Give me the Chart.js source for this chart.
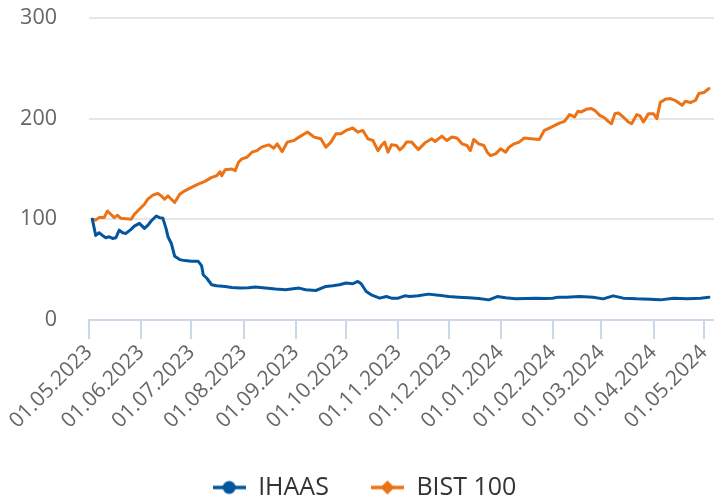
<!DOCTYPE html>
<html>
<head>
<meta charset="utf-8">
<script src="https://cdn.jsdelivr.net/npm/chart.js@4.4.1/dist/chart.umd.min.js"></script>
<style>
  html, body { margin: 0; padding: 0; background: #ffffff; }
  #chart { display: block; }
</style>
</head>
<body>
<canvas id="chart" width="714" height="502"></canvas>
<script>
// IHAAS ve BIST 100 karşılaştırma grafiği (başlangıç = 100)

const ihaasDates = [
    '2023-05-03', '2023-05-05', '2023-05-07', '2023-05-09', '2023-05-11', '2023-05-13', '2023-05-15', '2023-05-17',
    '2023-05-19', '2023-05-21', '2023-05-23', '2023-05-26', '2023-05-28', '2023-05-31', '2023-06-03', '2023-06-05',
    '2023-06-07', '2023-06-10', '2023-06-12', '2023-06-14', '2023-06-16', '2023-06-17', '2023-06-19', '2023-06-21',
    '2023-06-24', '2023-06-27', '2023-07-01', '2023-07-05', '2023-07-07', '2023-07-08', '2023-07-10', '2023-07-13',
    '2023-07-16', '2023-07-21', '2023-07-25', '2023-07-30', '2023-08-04', '2023-08-08', '2023-08-14', '2023-08-20',
    '2023-08-26', '2023-09-03', '2023-09-07', '2023-09-13', '2023-09-19', '2023-09-23', '2023-09-27', '2023-10-01',
    '2023-10-05', '2023-10-08', '2023-10-10', '2023-10-13', '2023-10-16', '2023-10-21', '2023-10-25', '2023-10-28',
    '2023-11-01', '2023-11-05', '2023-11-08', '2023-11-13', '2023-11-19', '2023-11-25', '2023-12-01', '2023-12-07',
    '2023-12-13', '2023-12-19', '2023-12-25', '2023-12-30', '2024-01-04', '2024-01-10', '2024-01-16', '2024-01-22',
    '2024-01-28', '2024-02-01', '2024-02-04', '2024-02-09', '2024-02-17', '2024-02-25', '2024-03-02', '2024-03-08',
    '2024-03-14', '2024-03-22', '2024-03-30', '2024-04-05', '2024-04-13', '2024-04-21', '2024-04-29', '2024-05-04'
];
const ihaasValues = [
    100, 84, 86.7, 84, 81.7, 82.7, 81, 81.7,
    89.3, 86.7, 86, 90, 93.3, 96, 91, 94,
    98.3, 103.3, 101.7, 101, 90, 82.7, 76, 63.3,
    60, 59, 58.3, 58.3, 54, 45, 41.7, 35,
    34, 33.3, 32.3, 31.7, 32, 32.7, 31.7, 30.7,
    30, 31.7, 30, 29.3, 33.3, 34, 35, 36.7,
    36, 38.3, 36, 28.3, 25, 21.7, 23.3, 21.7,
    21.7, 24, 23.3, 24, 25.7, 24.7, 23.3, 22.7,
    22, 21.3, 20, 23.3, 22, 21, 21.3, 21.7,
    21.3, 21.7, 22.7, 22.7, 23.3, 22.7, 21, 24,
    21.7, 21, 20.7, 20, 21.7, 21, 21.7, 22.7
];

const bistDates = [
    '2023-05-03', '2023-05-05', '2023-05-07', '2023-05-10', '2023-05-12', '2023-05-14', '2023-05-16', '2023-05-18',
    '2023-05-20', '2023-05-23', '2023-05-26', '2023-05-28', '2023-05-31', '2023-06-03', '2023-06-05', '2023-06-08',
    '2023-06-11', '2023-06-13', '2023-06-15', '2023-06-17', '2023-06-19', '2023-06-21', '2023-06-24', '2023-06-27',
    '2023-07-01', '2023-07-05', '2023-07-09', '2023-07-13', '2023-07-16', '2023-07-18', '2023-07-19', '2023-07-21',
    '2023-07-25', '2023-07-27', '2023-07-29', '2023-07-31', '2023-08-03', '2023-08-06', '2023-08-09', '2023-08-12',
    '2023-08-16', '2023-08-19', '2023-08-21', '2023-08-24', '2023-08-27', '2023-08-31', '2023-09-03', '2023-09-08',
    '2023-09-12', '2023-09-16', '2023-09-19', '2023-09-22', '2023-09-25', '2023-09-28', '2023-10-01', '2023-10-05',
    '2023-10-08', '2023-10-11', '2023-10-14', '2023-10-17', '2023-10-20', '2023-10-22', '2023-10-24', '2023-10-26',
    '2023-10-28', '2023-10-31', '2023-11-02', '2023-11-04', '2023-11-06', '2023-11-09', '2023-11-13', '2023-11-17',
    '2023-11-21', '2023-11-23', '2023-11-27', '2023-11-30', '2023-12-03', '2023-12-06', '2023-12-09', '2023-12-12',
    '2023-12-14', '2023-12-16', '2023-12-19', '2023-12-22', '2023-12-24', '2023-12-26', '2023-12-29', '2024-01-01',
    '2024-01-04', '2024-01-06', '2024-01-09', '2024-01-12', '2024-01-15', '2024-01-19', '2024-01-24', '2024-01-27',
    '2024-01-30', '2024-02-02', '2024-02-05', '2024-02-08', '2024-02-11', '2024-02-14', '2024-02-16', '2024-02-18',
    '2024-02-21', '2024-02-24', '2024-02-26', '2024-02-29', '2024-03-03', '2024-03-05', '2024-03-07', '2024-03-09',
    '2024-03-11', '2024-03-14', '2024-03-17', '2024-03-19', '2024-03-22', '2024-03-24', '2024-03-26', '2024-03-29',
    '2024-04-01', '2024-04-03', '2024-04-05', '2024-04-08', '2024-04-11', '2024-04-14', '2024-04-18', '2024-04-20',
    '2024-04-23', '2024-04-26', '2024-04-28', '2024-05-01', '2024-05-04'
];
const bistValues = [
    100, 99.3, 101.7, 101.7, 108.3, 105, 101.7, 104,
    101, 100.7, 100, 105, 110, 115, 120, 124,
    125.7, 123.3, 120, 123.3, 120, 116.7, 125, 128.3,
    131.7, 135, 137.7, 141.7, 143.3, 147.3, 143.3, 149.3,
    150, 148.3, 156.7, 160, 161.7, 166.7, 168.3, 172,
    174, 170.7, 175, 167.3, 176.7, 178.3, 181.7, 186.7,
    181.7, 180, 171.7, 176.7, 185, 185, 188.3, 190.7,
    186.7, 188.3, 180, 178.3, 168.3, 173.3, 176.7, 166.7,
    174, 173.3, 169, 172, 176.7, 176.7, 169.3, 176,
    180, 177.3, 182.7, 178.3, 181.7, 180.7, 175, 173.3,
    168.3, 179.3, 175, 173.3, 166.7, 163.3, 165, 170,
    166.7, 171.7, 175, 176.7, 180.7, 180, 179.3, 188.3,
    190.7, 193, 195.5, 197.3, 204, 201.7, 207.3, 206.7,
    209.3, 210, 208.3, 203.3, 200.7, 197.3, 195, 205,
    205.7, 201.7, 196.7, 195, 204, 202.7, 196.7, 205,
    205, 200, 216, 219.3, 220, 218, 213.3, 217.3,
    216, 218.3, 225, 226, 230
];

// x ekseni etiketleri (ayın ilk günü)
const tickDates = [
    '2023-05-01', '2023-06-01', '2023-07-01', '2023-08-01', '2023-09-01', '2023-10-01', '2023-11-01',
    '2023-12-01', '2024-01-01', '2024-02-01', '2024-03-01', '2024-04-01', '2024-05-01'
];
const yTicks = [0, 100, 200, 300];

const startDate = '2023-05-01';
const endDate = '2024-05-07';

const blue = '#03569d';
const orange = '#ec7216';

// tarih -> başlangıçtan itibaren gün sayısı
function dayOf(s) {
    const p = s.split('-').map(Number);
    return (Date.UTC(p[0], p[1] - 1, p[2]) - Date.UTC(2023, 4, 1)) / 86400000;
}

function formatDate(s) {
    const p = s.split('-');
    return p[2] + '.' + p[1] + '.' + p[0];
}

const tickLabels = {};
tickDates.forEach(d => { tickLabels[dayOf(d)] = formatDate(d); });

// legend sembolü: çizgi + işaret
function makeSymbol(color, shape) {
    const c = document.createElement('canvas');
    c.width = 33;
    c.height = 16;
    const g = c.getContext('2d');
    g.strokeStyle = color;
    g.lineWidth = 3.5;
    g.beginPath();
    g.moveTo(0, 8);
    g.lineTo(33, 8);
    g.stroke();
    g.fillStyle = color;
    g.beginPath();
    if (shape === 'circle') {
        g.arc(16.5, 8, 6.5, 0, Math.PI * 2);
    } else {
        g.moveTo(16.5, 1);
        g.lineTo(23.5, 8);
        g.lineTo(16.5, 15);
        g.lineTo(9.5, 8);
        g.closePath();
    }
    g.fill();
    return c;
}

const fontFamily = '"Open Sans", "Noto Sans", sans-serif';

// legend'i biraz sağa kaydır
const legendShift = {
    id: 'legendShift',
    afterLayout(chart) {
        if (chart.legend) chart.legend.left += 15;
    }
};

const ctx = document.getElementById('chart').getContext('2d');

new Chart(ctx, {
    type: 'line',
    data: {
        datasets: [{
            label: 'IHAAS',
            data: ihaasDates.map((d, i) => ({ x: dayOf(d), y: ihaasValues[i] })),
            borderColor: blue,
            backgroundColor: blue,
            borderWidth: 3,
            borderJoinStyle: 'round',
            borderCapStyle: 'round',
            pointRadius: 0,
            tension: 0,
            symbol: 'circle'
        }, {
            label: 'BIST 100',
            data: bistDates.map((d, i) => ({ x: dayOf(d), y: bistValues[i] })),
            borderColor: orange,
            backgroundColor: orange,
            borderWidth: 3,
            borderJoinStyle: 'round',
            borderCapStyle: 'round',
            pointRadius: 0,
            tension: 0,
            symbol: 'diamond'
        }]
    },
    plugins: [legendShift],
    options: {
        responsive: false,
        animation: false,
        layout: {
            padding: { top: 18, left: 0, right: 0, bottom: -8 }
        },
        plugins: {
            tooltip: { enabled: false },
            legend: {
                position: 'bottom',
                labels: {
                    usePointStyle: true,
                    pointStyleWidth: 33,
                    padding: 42,
                    color: '#333333',
                    font: { family: fontFamily, size: 25 },
                    generateLabels: function(chart) {
                        return chart.data.datasets.map((ds, i) => ({
                            text: ds.label,
                            pointStyle: makeSymbol(ds.borderColor, ds.symbol),
                            fillStyle: ds.borderColor,
                            strokeStyle: ds.borderColor,
                            lineWidth: 0,
                            hidden: false,
                            fontColor: '#333333',
                            datasetIndex: i
                        }));
                    }
                }
            }
        },
        scales: {
            x: {
                type: 'linear',
                min: dayOf(startDate),
                max: dayOf(endDate),
                afterBuildTicks: function(scale) {
                    scale.ticks = tickDates.map(d => ({ value: dayOf(d) }));
                },
                afterFit: function(scale) {
                    scale.paddingLeft = 0;
                    scale.paddingRight = 0;
                    scale.height = 113;
                },
                ticks: {
                    autoSkip: false,
                    minRotation: 45,
                    maxRotation: 45,
                    padding: 1,
                    color: '#666666',
                    font: { family: fontFamily, size: 21 },
                    callback: function(value) {
                        return tickLabels[value] || '';
                    }
                },
                grid: {
                    drawOnChartArea: false,
                    drawTicks: true,
                    tickLength: 19,
                    color: '#ccd6eb',
                    lineWidth: 2
                },
                border: {
                    color: '#ccd6eb',
                    width: 2
                }
            },
            y: {
                min: 0,
                max: 300,
                afterBuildTicks: function(scale) {
                    scale.ticks = yTicks.map(v => ({ value: v }));
                },
                afterFit: function(scale) {
                    scale.width = 89;
                    scale.paddingTop = 0;
                    scale.paddingBottom = 0;
                },
                ticks: {
                    padding: 32,
                    color: '#666666',
                    font: { family: fontFamily, size: 21.5 }
                },
                grid: {
                    drawTicks: false,
                    lineWidth: 2,
                    color: (c) => c.tick && c.tick.value === 0 ? '#ccd6eb' : '#e6e6e6'
                },
                border: {
                    display: false
                }
            }
        }
    }
});
</script>
</body>
</html>
